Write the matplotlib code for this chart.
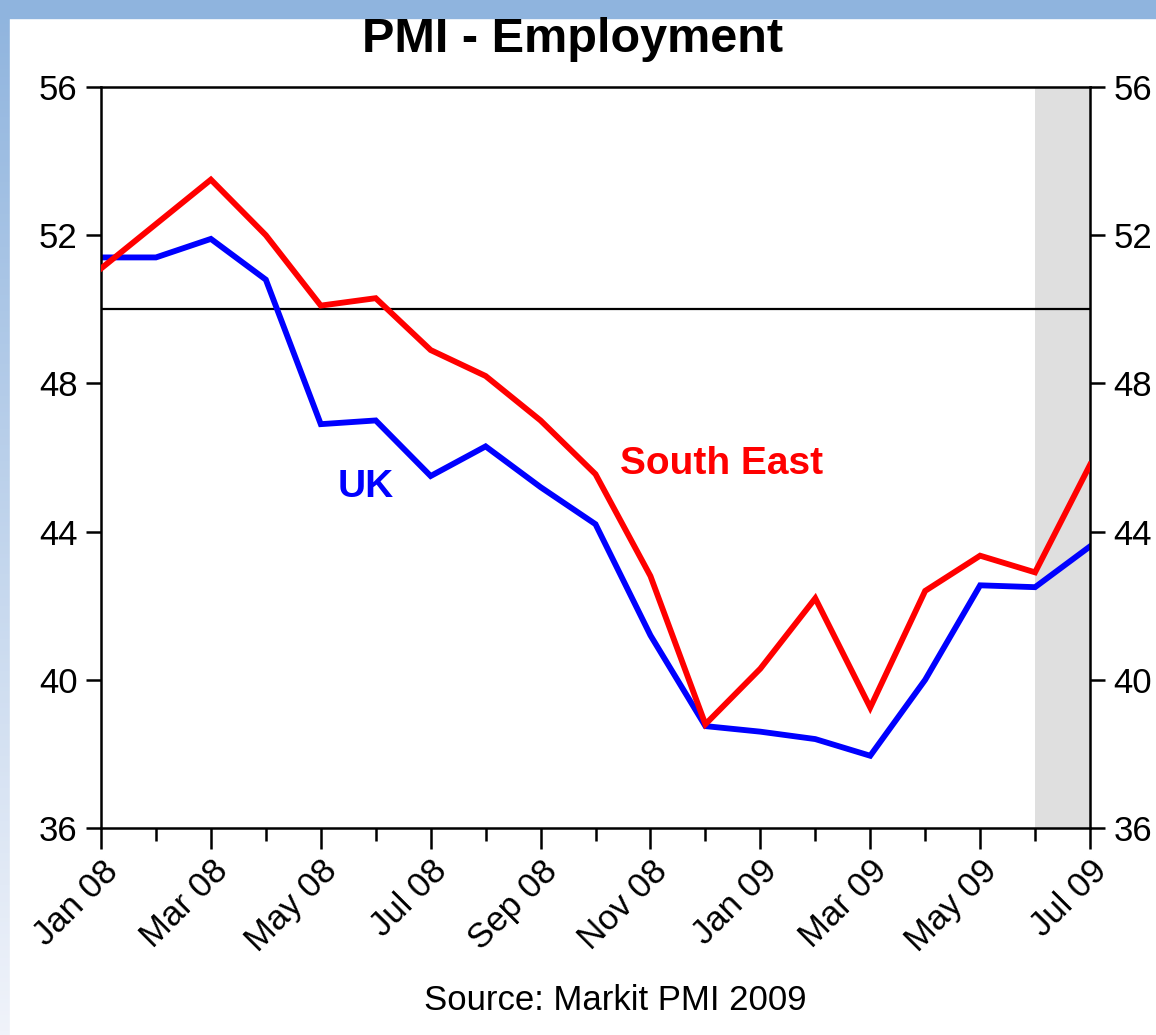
import matplotlib.pyplot as plt
import numpy as np
from matplotlib.patches import Rectangle

plt.rcParams['font.family'] = ['Liberation Sans', 'DejaVu Sans']

months = ["Jan 08", "Feb 08", "Mar 08", "Apr 08", "May 08", "Jun 08", "Jul 08",
          "Aug 08", "Sep 08", "Oct 08", "Nov 08", "Dec 08", "Jan 09", "Feb 09",
          "Mar 09", "Apr 09", "May 09", "Jun 09", "Jul 09"]
uk = [51.4, 51.4, 51.9, 50.8, 46.9, 47.0, 45.5, 46.3, 45.2, 44.2, 41.2, 38.75,
      38.6, 38.4, 37.95, 40.0, 42.55, 42.5, 43.6]
south_east = [51.1, 52.3, 53.5, 52.0, 50.1, 50.3, 48.9, 48.2, 47.0, 45.55, 42.8,
              38.8, 40.3, 42.2, 39.25, 42.4, 43.35, 42.9, 45.8]
shade_start = "Jun 09"
yticks = [36, 40, 44, 48, 52, 56]

fig = plt.figure(figsize=(11.56, 10.35), dpi=100)
fig.patch.set_facecolor("white")

# blue frame: gradient strip on the left, solid band on top
bg = fig.add_axes([0, 0, 1, 1], zorder=-10)
bg.axis('off')
grad = np.linspace(0, 1, 256).reshape(-1, 1)
top_c = np.array([0x8F, 0xB4, 0xDE]) / 255
bot_c = np.array([0xF0, 0xF3, 0xFA]) / 255
img = top_c + grad[..., None] * (bot_c - top_c)
bg.imshow(img, extent=[0, 1, 0, 1], aspect='auto', origin='upper')
bg.add_patch(Rectangle((10 / 1156, 0), 1, 1 - 18 / 1035, color="white", zorder=2))
bg.add_patch(Rectangle((0, 1 - 18 / 1035), 1, 18 / 1035, color="#8FB4DE", zorder=3))
bg.set_xlim(0, 1)
bg.set_ylim(0, 1)

ax = fig.add_axes([101 / 1156, 207 / 1035, 989 / 1156, 741 / 1035])
x = np.arange(len(months))
s = months.index(shade_start)
ax.axvspan(x[s], x[-1], color="#DFDFDF", lw=0, zorder=0)
ax.axhline(50, color="black", lw=1.6, zorder=1)
ax.plot(x, south_east, color="#FF0000", lw=4.2, zorder=3, solid_joinstyle='miter')
ax.plot(x, uk, color="#0000FF", lw=4.2, zorder=2, solid_joinstyle='miter')

ax.set_xlim(x[0], x[-1])
ax.set_ylim(36, 56)
ax.set_yticks(yticks)
ax.set_xticks(x[::2])
ax.set_xticklabels(months[::2], rotation=45, ha='right', rotation_mode='anchor')
ax.set_xticks(x[1::2], minor=True)

for sp in ax.spines.values():
    sp.set_linewidth(1.8)

ax.tick_params(axis='y', which='major', direction='out', length=11, width=1.8,
               labelsize=25, pad=6, left=True, right=True, labelleft=True, labelright=True)
ax.tick_params(axis='x', which='major', direction='out', length=15, width=1.8,
               labelsize=25, pad=4)
ax.tick_params(axis='x', which='minor', direction='out', length=9, width=1.8)

ax.text(4.82, 44.93, "UK", color="#0000FF", fontsize=28, fontweight='bold',
        ha='center', va='baseline')
ax.text(11.3, 45.55, "South East", color="#FF0000", fontsize=28, fontweight='bold',
        ha='center', va='baseline')

fig.text(573 / 1156, 1 - 52 / 1035, "PMI - Employment", fontsize=35, fontweight='bold',
         ha='center', va='baseline')
fig.text(615 / 1156, 1 - 1010 / 1035, "Source: Markit PMI 2009", fontsize=25,
         ha='center', va='baseline')

fig.savefig("out.png", dpi=100)
